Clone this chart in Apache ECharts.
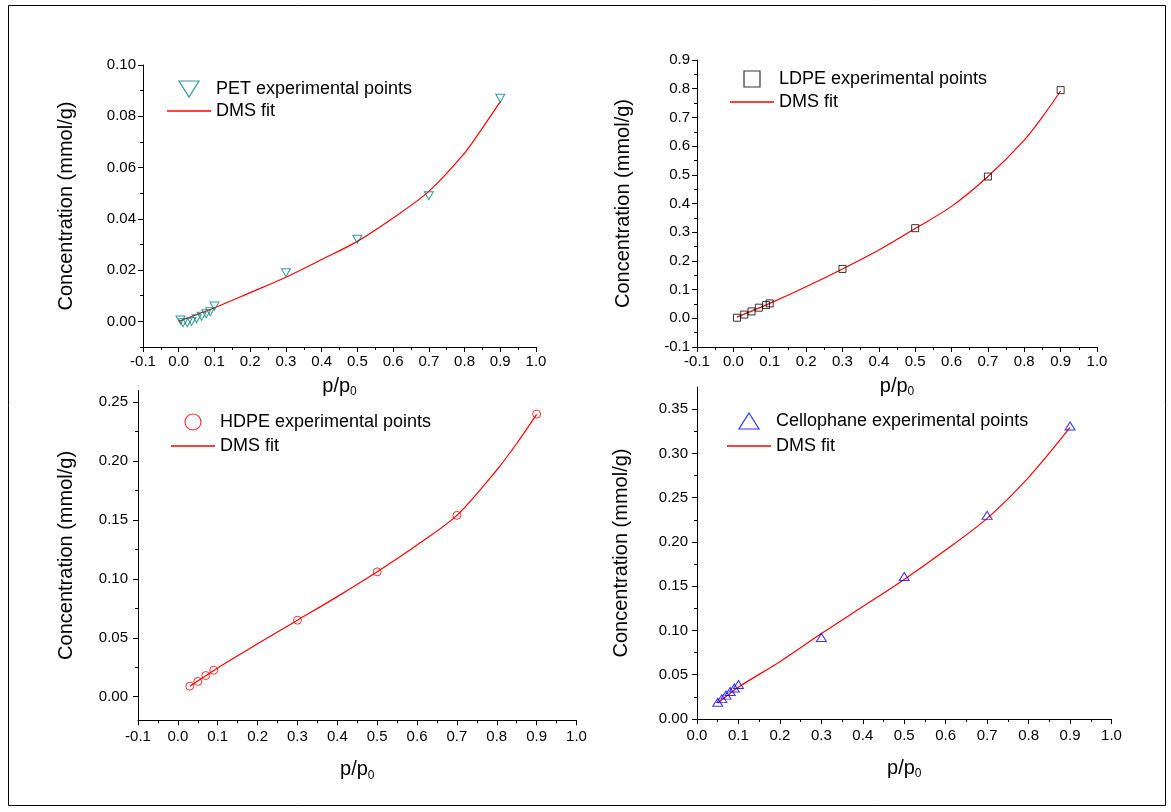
<!DOCTYPE html>
<html><head><meta charset="utf-8">
<script src="https://cdn.jsdelivr.net/npm/echarts@6/dist/echarts.min.js"></script>
<style>html,body{margin:0;padding:0;background:#fff}#c{width:1171px;height:812px}</style>
</head><body><div id="c"></div>
<script>
// ---------- DATA ----------
const petX = [0.005, 0.012, 0.024, 0.036, 0.05, 0.064, 0.077, 0.088, 0.1, 0.3, 0.5, 0.7, 0.9];
const petY = [0.0005, -0.0005, -0.0005, 0.0, 0.001, 0.002, 0.003, 0.0038, 0.006, 0.019, 0.032, 0.049, 0.087];
const petFitX = [0.0, 0.1, 0.2, 0.3, 0.4, 0.5, 0.6, 0.7, 0.8, 0.85, 0.9];
const petFitY = [0.0, 0.0053, 0.0112, 0.0172, 0.0241, 0.0312, 0.0403, 0.0507, 0.0656, 0.0754, 0.0857];

const ldpeX = [0.01, 0.03, 0.05, 0.07, 0.09, 0.1, 0.3, 0.5, 0.7, 0.9];
const ldpeY = [0.002, 0.013, 0.024, 0.037, 0.046, 0.052, 0.172, 0.314, 0.494, 0.795];
const ldpeFitX = [0.01, 0.1, 0.2, 0.3, 0.4, 0.5, 0.6, 0.7, 0.8, 0.85, 0.9];
const ldpeFitY = [0.004, 0.052, 0.110, 0.172, 0.238, 0.313, 0.390, 0.494, 0.621, 0.702, 0.792];

const hdpeX = [0.03, 0.05, 0.07, 0.09, 0.3, 0.5, 0.7, 0.9];
const hdpeY = [0.009, 0.013, 0.018, 0.0225, 0.065, 0.106, 0.154, 0.24];
const hdpeFitX = [0.03, 0.1, 0.2, 0.3, 0.4, 0.5, 0.6, 0.7, 0.8, 0.85, 0.9];
const hdpeFitY = [0.009, 0.0245, 0.045, 0.065, 0.085, 0.1061, 0.1288, 0.154, 0.1925, 0.215, 0.2397];

const celloX = [0.05, 0.06, 0.07, 0.08, 0.09, 0.1, 0.3, 0.5, 0.7, 0.9];
const celloY = [0.019, 0.023, 0.027, 0.031, 0.035, 0.039, 0.092, 0.161, 0.230, 0.331];
const celloFitX = [0.05, 0.1, 0.2, 0.3, 0.4, 0.5, 0.6, 0.7, 0.8, 0.9];
const celloFitY = [0.018, 0.036, 0.0647, 0.0965, 0.127, 0.1577, 0.1908, 0.2266, 0.2729, 0.3293];

const petYTicks = [0, 0.02, 0.04, 0.06, 0.08, 0.10];
const petYMinor = [-0.01, 0.01, 0.03, 0.05, 0.07, 0.09];
const hdpeYTicks = [0, 0.05, 0.10, 0.15, 0.20, 0.25];
const hdpeYMinor = [0.025, 0.075, 0.125, 0.175, 0.225];
const celloYTicks = [0, 0.05, 0.10, 0.15, 0.20, 0.25, 0.30, 0.35];
const celloYMinor = [0.025, 0.075, 0.125, 0.175, 0.225, 0.275, 0.325];

const names = {
  pet: 'PET experimental points', ldpe: 'LDPE experimental points',
  hdpe: 'HDPE experimental points', cello: 'Cellophane experimental points', fit: 'DMS fit'
};
const yName = 'Concentration (mmol/g)';

// ---------- BUILD ----------
const FF = 'Liberation Sans, Arial, sans-serif';
const zip = (a, b) => a.map((v, i) => [v, b[i]]);

const grids = [
  { left: 143, top: 65, width: 393, height: 282 },
  { left: 697, top: 60, width: 400, height: 287 },
  { left: 138, top: 390.5, width: 438.5, height: 329.8 },
  { left: 697, top: 387, width: 414.5, height: 332 }
];

function xAxis(gi, min, nameGap, margin) {
  return {
    type: 'value', gridIndex: gi, min: min, max: 1.0, interval: 0.1,
    name: 'p/p{sub|0}', nameLocation: 'middle', nameGap: nameGap,
    nameTextStyle: { fontSize: 20, fontFamily: FF, color: '#000',
      rich: { sub: { fontSize: 12, fontFamily: FF, color: '#000', padding: [12, 0, 0, 0] } } },
    axisLine: { onZero: false, lineStyle: { color: '#000', width: 1 } },
    axisTick: { length: 5, lineStyle: { color: '#000' } },
    minorTick: { show: true, splitNumber: 2, length: 3, lineStyle: { color: '#000' } },
    axisLabel: { fontSize: 15, fontFamily: FF, color: '#000', margin: margin,
      formatter: v => v.toFixed(1) },
    splitLine: { show: false }, minorSplitLine: { show: false }
  };
}
function yAxisMain(gi, min, max, opts) {
  const a = {
    type: 'value', gridIndex: gi, min: min, max: max,
    name: yName, nameLocation: 'middle', nameGap: opts.nameGap, nameRotate: 90,
    nameTextStyle: { fontSize: 20, fontFamily: FF, color: '#000' },
    axisLine: { onZero: false, lineStyle: { color: '#000', width: 1 } },
    axisTick: { length: 5, lineStyle: { color: '#000' } },
    axisLabel: { fontSize: 15, fontFamily: FF, color: '#000', margin: opts.margin,
      formatter: v => v.toFixed(opts.dec) },
    splitLine: { show: false }, minorSplitLine: { show: false }
  };
  if (opts.ticks) {
    a.axisTick.customValues = opts.ticks;
    a.axisLabel.customValues = opts.ticks;
  } else {
    a.interval = opts.interval;
    a.minorTick = { show: true, splitNumber: 2, length: 3, lineStyle: { color: '#000' } };
  }
  return a;
}
function yAxisMinor(gi, min, max, minor) {
  return {
    type: 'value', gridIndex: gi, min: min, max: max, position: 'left', offset: 0,
    axisLine: { show: false, onZero: false },
    axisTick: { show: true, length: 3, customValues: minor, lineStyle: { color: '#000' } },
    axisLabel: { show: false }, splitLine: { show: false }
  };
}

const yAxes = [
  yAxisMain(0, -0.01, 0.10, { ticks: petYTicks, dec: 2, nameGap: 67, margin: 7 }),
  yAxisMain(1, -0.1, 0.9, { interval: 0.1, dec: 1, nameGap: 64, margin: 7 }),
  yAxisMain(2, -0.02, 0.26, { ticks: hdpeYTicks, dec: 2, nameGap: 62, margin: 10 }),
  yAxisMain(3, 0, 0.375, { ticks: celloYTicks, dec: 2, nameGap: 66, margin: 9 }),
  yAxisMinor(0, -0.01, 0.10, petYMinor),
  yAxisMinor(2, -0.02, 0.26, hdpeYMinor),
  yAxisMinor(3, 0, 0.375, celloYMinor)
];
const xAxes = [
  xAxis(0, -0.1, 27, 7),
  xAxis(1, -0.1, 27, 7),
  xAxis(2, -0.1, 37, 9),
  xAxis(3, 0.0, 37, 9)
];

function scatter(name, gi, x, y, symbol, rot, size, color) {
  return {
    type: 'scatter', name: name, xAxisIndex: gi, yAxisIndex: gi, data: zip(x, y),
    symbol: symbol, symbolRotate: rot, symbolSize: size, symbolKeepAspect: true,
    itemStyle: { color: 'rgba(255,255,255,0)', borderColor: color, borderWidth: 1 }, z: 3
  };
}
function fit(gi, x, y) {
  return {
    type: 'line', name: names.fit, xAxisIndex: gi, yAxisIndex: gi, data: zip(x, y),
    symbol: 'none', smooth: 0.3,
    lineStyle: { color: '#ff0000', width: 1.2 }, itemStyle: { color: '#ff0000' }, z: 2
  };
}

const ICON_DOWN_TRI = 'path://M0,0 L20,0 L10,16 Z';
const ICON_UP_TRI = 'path://M10,0 L20,16 L0,16 Z';
const ICON_SQUARE = 'path://M0,0 L15,0 L15,15 L0,15 Z';
const ICON_LINE = 'path://M0,0 L44,0 L44,1.5 L0,1.5 Z';

function legend(name, icon, color, left, top, gap) {
  return {
    data: [
      { name: name, icon: icon,
        itemStyle: { color: 'rgba(255,255,255,0)', borderColor: color, borderWidth: 1.2 } },
      { name: names.fit, icon: ICON_LINE,
        itemStyle: { color: '#ff0000', borderWidth: 0 } }
    ],
    orient: 'vertical', left: left, top: top, padding: 0,
    itemGap: gap, itemWidth: 44, itemHeight: 16, selectedMode: false,
    symbolKeepAspect: true,
    textStyle: { fontSize: 18, fontFamily: FF, color: '#000', lineHeight: 20 }
  };
}

const option = {
  animation: false,
  backgroundColor: '#fff',
  grid: grids,
  xAxis: xAxes,
  yAxis: yAxes,
  legend: [
    legend(names.pet, ICON_DOWN_TRI, '#008080', 167, 79, 2),
    legend(names.ldpe, ICON_SQUARE, '#000000', 730, 69, 3),
    legend(names.hdpe, 'circle', '#ff0000', 171, 412, 4),
    legend(names.cello, ICON_UP_TRI, '#0000ff', 727, 411, 5)
  ],
  series: [
    fit(0, petFitX, petFitY),
    scatter(names.pet, 0, petX, petY, 'triangle', 180, [9, 8], '#008080'),
    fit(1, ldpeFitX, ldpeFitY),
    scatter(names.ldpe, 1, ldpeX, ldpeY, 'rect', 0, 7, '#000000'),
    fit(2, hdpeFitX, hdpeFitY),
    scatter(names.hdpe, 2, hdpeX, hdpeY, 'circle', 0, 8, '#ff0000'),
    fit(3, celloFitX, celloFitY),
    scatter(names.cello, 3, celloX, celloY, 'triangle', 0, [10, 8], '#0000ff')
  ],
  graphic: [{
    type: 'rect', silent: true, z: -1,
    shape: { x: 8.5, y: 5.5, width: 1157, height: 800 },
    style: { fill: 'none', stroke: '#000', lineWidth: 1 }
  }]
};

const chart = echarts.init(document.getElementById('c'), null, { renderer: 'canvas' });
chart.setOption(option);
</script>
</body></html>
